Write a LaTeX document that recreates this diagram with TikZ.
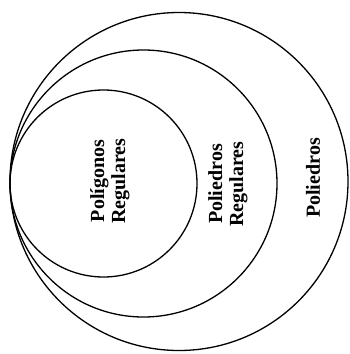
\documentclass[tikz,border=0pt]{standalone}
\usepackage{fontspec}
\setmainfont{Liberation Serif}
\begin{document}
\begin{tikzpicture}[x=1pt,y=-1pt,
  ring/.style={circle,draw,line width=1.3pt,inner sep=0pt},
  lbl/.style={rotate=90,align=center,font=\fontsize{20}{21}\selectfont\bfseries}]
\useasboundingbox (0,0) rectangle (349,354);
% three nested sets, all touching at the left
\node[ring,minimum size=338pt] (poliedros) at (179,181.5) {};
\node[ring,minimum size=267pt] (regulares) at (143.5,183.5) {};
\node[ring,minimum size=187pt] (poligonos) at (103.5,183.5) {};
% labels
\node[lbl] (tpoligonos) at (110,181) {Polígonos\\Regulares};
\node[lbl] (tregulares) at (228,184) {Poliedros\\Regulares};
\node[lbl] (tpoliedros) at (313,178) {Poliedros};
\end{tikzpicture}
\end{document}
